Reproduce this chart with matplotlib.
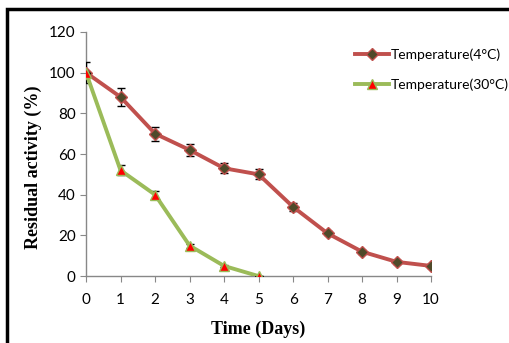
import numpy as np
import matplotlib.pyplot as plt
from matplotlib.patches import Rectangle
from matplotlib.lines import Line2D

days_4 = [0, 1, 2, 3, 4, 5, 6, 7, 8, 9, 10]
act_4 = [100, 88, 70, 62, 53, 50, 34, 21, 12, 7, 5]
err_4 = [5, 4.5, 3.5, 3, 2.5, 2.5, 2, 1, 1, 1, 1]

days_30 = [0, 1, 2, 3, 4, 5]
act_30 = [100, 52, 40, 15, 5, 0]
err_30 = [0, 2.5, 2, 1, 0.5, 0]

red = '#C0504D'
green = '#9BBB59'

fig = plt.figure(figsize=(5.09, 3.43), dpi=100)
ax = fig.add_axes([0.169, 0.195, 0.678, 0.712])

# frame around the chart area
fig.patches.append(Rectangle((7 / 509, -0.1), 1.2, 1 - 9 / 343 + 0.1,
                             transform=fig.transFigure, fill=False,
                             edgecolor='black', linewidth=2.5))

style_4 = dict(color=red, lw=2.8, marker='D', ms=6, mfc='#4F4A2A', mec=red, mew=1)
style_30 = dict(color=green, lw=2.8, marker='^', ms=7, mfc='red', mec=green, mew=1)

ax.errorbar(days_4, act_4, yerr=err_4, ecolor='black', elinewidth=1,
            capsize=3, capthick=1, zorder=3, **style_4)
ax.errorbar(days_30, act_30, yerr=err_30, ecolor='black', elinewidth=1,
            capsize=3, capthick=1, zorder=4, **style_30)

ax.set_xlim(0, 10)
ax.set_ylim(0, 120)
ax.set_xticks(range(0, 11))
ax.set_yticks(range(0, 121, 20))
for s in ['top', 'right']:
    ax.spines[s].set_visible(False)
for s in ['left', 'bottom']:
    ax.spines[s].set_color('#888888')
    ax.spines[s].set_linewidth(1)
ax.tick_params(colors='#888888', labelcolor='black', length=4, labelsize=11)
ax.tick_params(axis='x', pad=8)
for lbl in ax.get_xticklabels() + ax.get_yticklabels():
    lbl.set_family('Lato')

ax.set_xlabel('Time (Days)', family='Liberation Serif', weight='bold', fontsize=13, labelpad=10)
ax.set_ylabel('Residual activity (%)', family='Liberation Serif', weight='bold', fontsize=13)
ax.yaxis.set_label_coords(-0.128, 0.447)

handles = [Line2D([], [], **style_4), Line2D([], [], **style_30)]
labels = ['Temperature(4°C)', 'Temperature(30°C)']
fig.legend(handles, labels, loc='upper left', bbox_to_anchor=(0.697, 0.858),
           frameon=False, prop={'family': 'Lato', 'size': 10},
           handlelength=2.5, handletextpad=0.1, labelspacing=1.25,
           borderaxespad=0, borderpad=0)

fig.savefig('out.png', dpi=100)
